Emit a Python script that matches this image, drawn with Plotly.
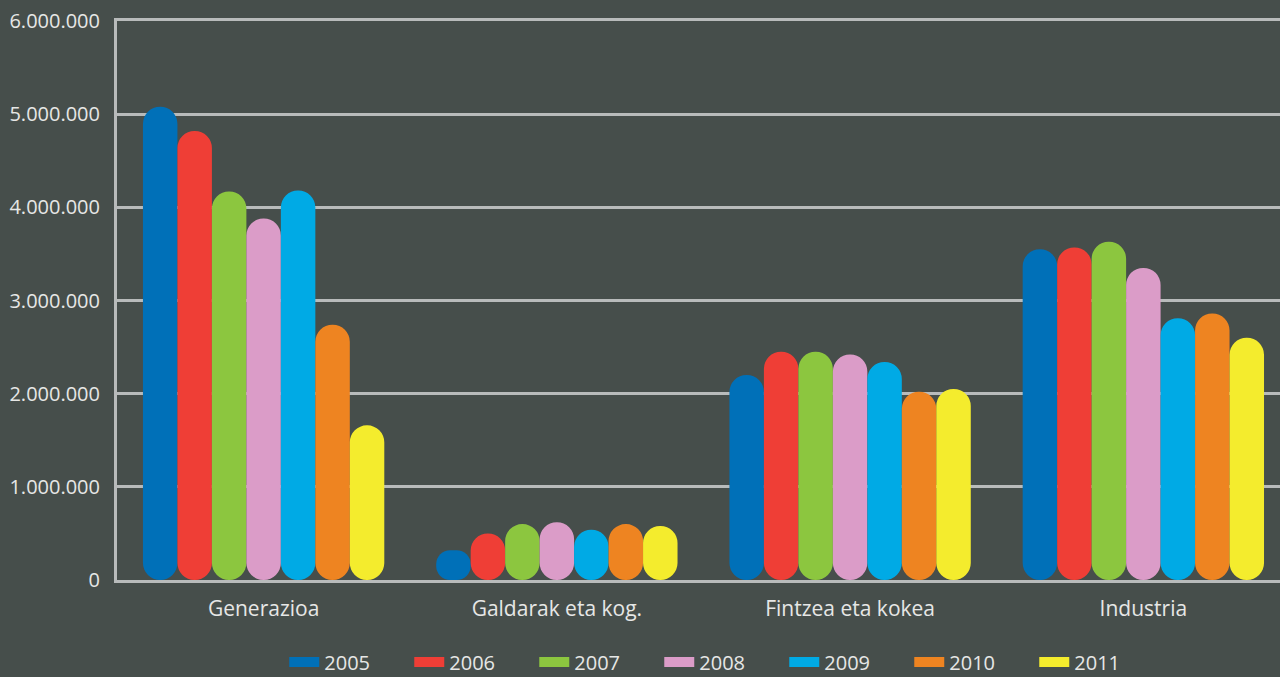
import plotly.graph_objects as go

categories = ["Generazioa", "Galdarak eta kog.", "Fintzea eta kokea", "Industria"]
years = ["2005", "2006", "2007", "2008", "2009", "2010", "2011"]
v2005 = [5080000, 320000, 2200000, 3550000]
v2006 = [4820000, 500000, 2450000, 3570000]
v2007 = [4170000, 600000, 2450000, 3630000]
v2008 = [3880000, 620000, 2420000, 3350000]
v2009 = [4180000, 540000, 2340000, 2810000]
v2010 = [2740000, 600000, 2020000, 2860000]
v2011 = [1660000, 580000, 2050000, 2600000]
series = [v2005, v2006, v2007, v2008, v2009, v2010, v2011]
colors = ["#0070b8", "#ef3e36", "#8cc63f", "#db9cc8", "#00aae5", "#ee8421", "#f4ec2d"]
tickvals = [0, 1000000, 2000000, 3000000, 4000000, 5000000, 6000000]

BG = "#464e4b"
GRID = "#b8bbbb"
TXT = "#e6e7e6"
FONT = "Open Sans"

fig = go.Figure()
for yr, vals, col in zip(years, series, colors):
    fig.add_trace(go.Bar(x=categories, y=vals, base=[0] * len(vals), offsetgroup=yr,
                         marker=dict(color=col, line=dict(width=0), cornerradius="50%"),
                         showlegend=False, hoverinfo="skip"))
    # legend entry
    fig.add_trace(go.Scatter(x=[None], y=[None], mode="lines", name=yr,
                             line=dict(color=col, width=12)))

fig.update_layout(
    width=1280, height=677,
    paper_bgcolor=BG, plot_bgcolor=BG,
    margin=dict(l=117, r=0, t=21, b=97, autoexpand=False),
    barmode="group", bargap=0.177, bargroupgap=0,
    separators=",.",
    font=dict(family=FONT, color=TXT, size=20),
    showlegend=True,
    legend=dict(orientation="h", x=0.52, xanchor="center", y=-0.1467, yanchor="middle",
                font=dict(family=FONT, size=20, color=TXT),
                entrywidth=80, entrywidthmode="pixels", bgcolor="rgba(0,0,0,0)",
                borderwidth=0, tracegroupgap=0),
    xaxis=dict(range=[-0.5, 3.466], showgrid=False, showline=True, mirror=True,
               linecolor=GRID, linewidth=3, ticks="", tickfont=dict(size=21, color=TXT),
               ticklabelstandoff=8, fixedrange=True),
    yaxis=dict(range=[0, 6000000], tickvals=tickvals, tickformat=",d", showgrid=True,
               gridcolor=GRID, gridwidth=2.5, showline=True, linecolor=GRID, linewidth=3,
               zeroline=False, ticks="", ticklabelstandoff=10,
               tickfont=dict(size=20, color=TXT), fixedrange=True),
)

fig.write_html("out.html", config={"displayModeBar": False},
               post_script="document.body.style.margin='0';document.body.style.padding='0';"
                           "document.body.style.background='" + BG + "';")
